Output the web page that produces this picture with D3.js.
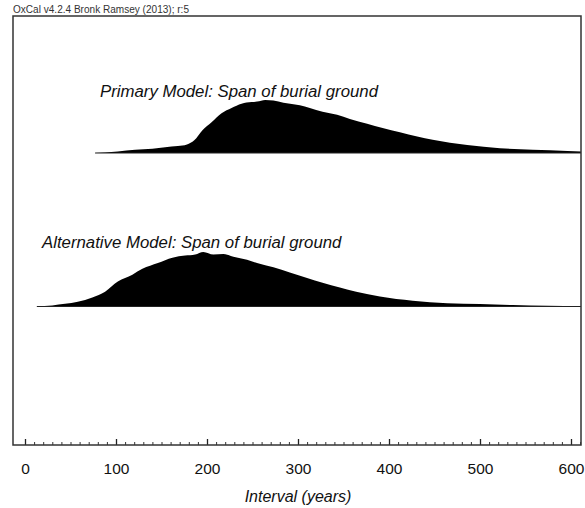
<!DOCTYPE html>
<html>
<head>
<meta charset="utf-8">
<script src="https://cdn.jsdelivr.net/npm/d3@7"></script>
<style>
  body { margin: 0; background: #fff; }
  text { font-family: "Liberation Sans", Arial, sans-serif; }
</style>
</head>
<body>
<script>
// model names (one row each)
var models = ['Primary Model: Span of burial ground', 'Alternative Model: Span of burial ground']

// interval in years, relative probability (peak ~1)
var primaryYears = [77, 88, 102, 121, 140, 154, 168, 178, 186, 195, 205, 216, 227, 238, 249, 255, 264, 273, 284, 295, 302, 313, 327, 343, 357, 376, 393, 412, 431, 448, 486, 522, 558, 596, 611]
var primaryProb  = [0, 0.01, 0.03, 0.06, 0.08, 0.11, 0.13, 0.16, 0.24, 0.43, 0.58, 0.75, 0.85, 0.93, 0.96, 0.97, 1.0, 0.99, 0.95, 0.92, 0.9, 0.85, 0.78, 0.72, 0.64, 0.55, 0.47, 0.39, 0.31, 0.25, 0.15, 0.09, 0.06, 0.04, 0.03]

var altYears = [13, 30, 44, 58, 74, 88, 102, 118, 129, 146, 162, 176, 187, 196, 207, 218, 229, 244, 255, 273, 291, 310, 327, 346, 364, 390, 426, 464, 500, 536, 574, 611]
var altProb  = [0, 0.02, 0.05, 0.09, 0.17, 0.28, 0.47, 0.6, 0.71, 0.82, 0.92, 0.96, 0.98, 1.03, 0.98, 0.99, 0.94, 0.88, 0.82, 0.74, 0.64, 0.54, 0.45, 0.36, 0.28, 0.19, 0.11, 0.06, 0.045, 0.026, 0.013, 0.008]

var majorTicks = [0, 100, 200, 300, 400, 500, 600]
var xLabel = 'Interval (years)'
var credit = 'OxCal v4.2.4 Bronk Ramsey (2013); r:5'

var width = 585,
    height = 508
var frame = {left: 13, top: 16, right: 581, bottom: 445}

var svg = d3.select('body').append('svg')
    .attr('width', width)
    .attr('height', height)

var x = d3.scaleLinear().domain([0, 600]).range([25, 571])
var row = d3.scaleLinear().domain([0, 1]).range([153, 306.5])
var h = d3.scaleLinear().domain([0, 1]).range([0, 53])

var series = [
    {name: models[0], pts: d3.zip(primaryYears, primaryProb), tx: 100, ty: 97},
    {name: models[1], pts: d3.zip(altYears, altProb), tx: 42, ty: 248}
]

svg.append('clipPath').attr('id', 'clip')
    .append('rect')
    .attr('x', frame.left).attr('y', frame.top)
    .attr('width', frame.right - frame.left).attr('height', frame.bottom - frame.top)

var plot = svg.append('g').attr('clip-path', 'url(#clip)')

series.forEach((s, i) => {
    var base = row(i)
    var area = d3.area()
        .x(d => x(d[0]))
        .y0(base)
        .y1(d => base - h(d[1]))
        .curve(d3.curveMonotoneX)
    plot.append('path')
        .datum(s.pts)
        .attr('d', area)
        .attr('fill', '#000')
    plot.append('line')
        .attr('x1', x(s.pts[0][0])).attr('x2', frame.right)
        .attr('y1', base).attr('y2', base)
        .attr('stroke', '#222').attr('stroke-width', 1.2)
    svg.append('text')
        .attr('x', s.tx).attr('y', s.ty)
        .attr('font-size', 16.8)
        .attr('font-style', 'italic')
        .attr('fill', '#111')
        .text(s.name)
})

// minor ticks every 10 years
svg.append('g')
    .attr('transform', `translate(0,${frame.bottom})`)
    .call(d3.axisBottom(x).tickValues(d3.range(0, 611, 10)).tickSize(-3).tickFormat(''))
    .call(g => g.select('.domain').remove())
    .call(g => g.selectAll('line').attr('stroke', '#333'))

// major ticks + labels
svg.append('g')
    .attr('transform', `translate(0,${frame.bottom})`)
    .call(d3.axisBottom(x).tickValues(majorTicks).tickSize(-6).tickPadding(18).tickFormat(d3.format('d')))
    .call(g => g.select('.domain').remove())
    .call(g => g.selectAll('line').attr('stroke', '#222').attr('stroke-width', 1.3))
    .call(g => g.selectAll('text')
        .attr('font-size', 15.5)
        .attr('fill', '#111')
        .style('font-family', '"Liberation Sans", Arial, sans-serif'))

// frame
svg.append('rect')
    .attr('x', frame.left).attr('y', frame.top)
    .attr('width', frame.right - frame.left).attr('height', frame.bottom - frame.top)
    .attr('fill', 'none')
    .attr('stroke', '#333')
    .attr('stroke-width', 1.5)

svg.append('text')
    .attr('x', (x(0) + x(600)) / 2).attr('y', 502)
    .attr('text-anchor', 'middle')
    .attr('font-size', 16)
    .attr('font-style', 'italic')
    .attr('fill', '#111')
    .text(xLabel)

svg.append('text')
    .attr('x', 13).attr('y', 13)
    .attr('font-size', 10)
    .attr('textLength', 176)
    .attr('lengthAdjust', 'spacingAndGlyphs')
    .attr('fill', '#333')
    .text(credit)
</script>
</body>
</html>
